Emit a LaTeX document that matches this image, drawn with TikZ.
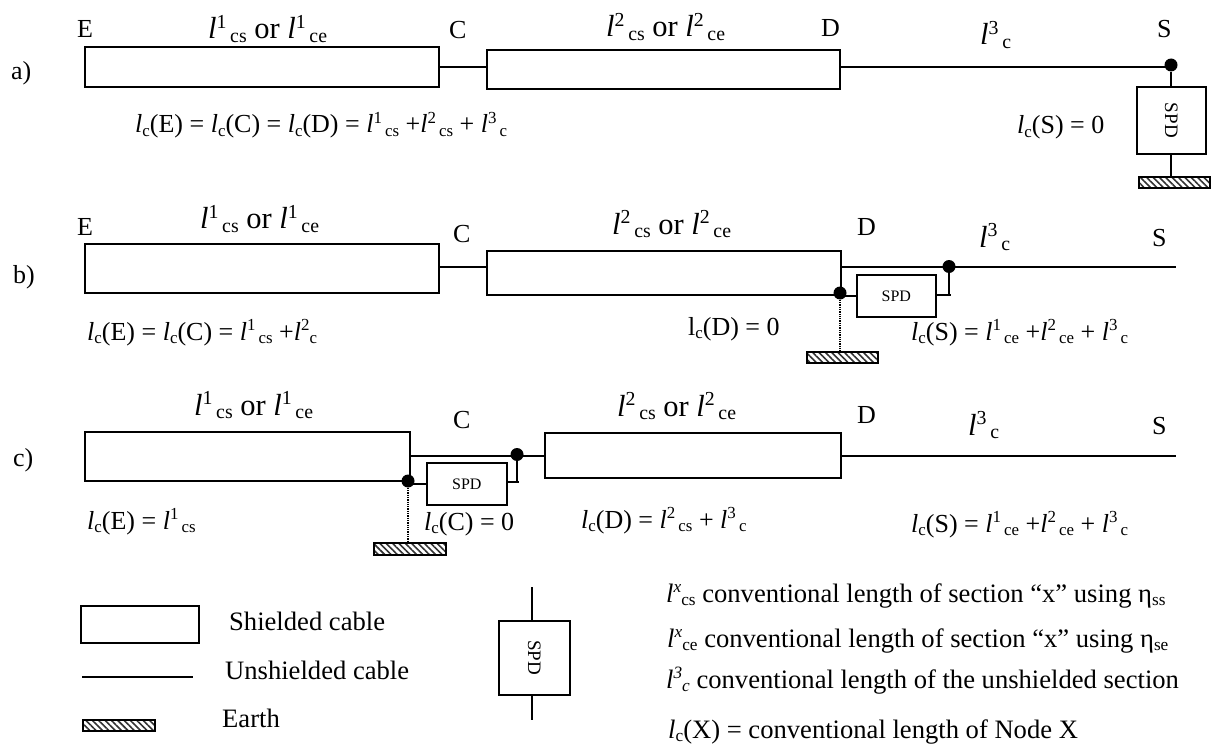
\documentclass[tikz,border=0pt]{standalone}
\usepackage{fontspec}
\setmainfont{Liberation Serif}
\usetikzlibrary{patterns.meta}
\newcommand\supx[1]{\raisebox{.36em}{\scalebox{.65}{#1}}}
\newcommand\subx[1]{\raisebox{-.12em}{\scalebox{.65}{#1}}}
\newcommand\lsec[2]{\textit{l}\supx{#1}\kern.12em\subx{#2}}
\newcommand\lcx[1]{\textit{l}\subx{c}(#1)}
\tikzset{
 x=1pt,y=-1pt,
 cable/.style={draw,line width=1.6pt,fill=white},
 wire/.style={line width=1.5pt},
 txt/.style={anchor=base west,inner sep=0pt,font=\fontsize{26}{30}\selectfont},
 lgd/.style={anchor=base west,inner sep=0pt,font=\fontsize{26.6}{30}\selectfont},
 big/.style={anchor=base west,inner sep=0pt,font=\fontsize{30.5}{34}\selectfont},
 dotn/.style={circle,fill=black,inner sep=0pt,minimum size=13pt},
 spdv/.style={draw,line width=1.6pt,fill=white,font=\fontsize{19}{22}\selectfont},
 spdh/.style={draw,line width=1.6pt,fill=white,font=\fontsize{16}{19}\selectfont},
 earth/.style={draw,line width=1.6pt,pattern={Lines[angle=-45,distance=4.5pt,line width=1.6pt]},pattern color=black!80},
}
\newcommand\bx[6]{\node[#1,anchor=north west,inner sep=0pt,minimum width=#4pt-#2pt,minimum height=#5pt-#3pt] (#6) at (#2,#3) {};}
\begin{document}
\begin{tikzpicture}
\useasboundingbox (0,0) rectangle (1216,749);
% ---- a
\bx{cable}{84}{46}{438}{86}{a1}
\bx{cable}{486}{49}{839}{88}{a2}
\draw[wire] (a1.east) -- (a1.east -| a2.west);
\node[dotn] (adot) at (1171,65) {};
\draw[wire] (a2.east |- a1.east) -- (a1.east -| adot);
\node[spdv,anchor=north west,inner sep=0pt,minimum width=69pt,minimum height=67pt] (aspd) at (1136,86) {\rotatebox{-90}{SPD}};
\bx{earth}{1138}{176}{1209}{187}{aearth}
\draw[wire] (adot) -- (adot |- aspd.north);
\draw[wire] (adot |- aspd.south) -- (adot |- aearth.north);
\node[txt] (tE1) at (77,38) {E};
\node[big] (ta1) at (208,39) {\lsec{1}{cs} or \lsec{1}{ce}};
\node[txt] (tC1) at (449,39) {C};
\node[big] (ta2) at (606,37) {\lsec{2}{cs} or \lsec{2}{ce}};
\node[txt] (tD1) at (821,37) {D};
\node[big] (ta3) at (980,45) {\lsec{3}{c}};
\node[txt] (tS1) at (1157,38) {S};
\node[txt] (la) at (11,80) {a)};
\node[txt] (fa1) at (135,133) {\lcx{E} = \lcx{C} = \lcx{D} = \lsec{1}{cs} +\lsec{2}{cs} + \lsec{3}{c}};
\node[txt] (fa2) at (1017,134) {\lcx{S} = 0};
% ---- b
\bx{cable}{84}{243}{438}{292}{b1}
\bx{cable}{486}{250}{840}{294}{b2}
\coordinate (bjoin) at (486,267);
\draw[wire] (b1.east |- bjoin) -- (bjoin);
\node[dotn] (bdr) at (949,266.5) {};
\node[dotn] (bdl) at (840,293) {};
\coordinate (bend) at (1176,267);
\coordinate (bstart) at (840,267);
\draw[wire] (bstart) -- (bend);
\node[spdh,anchor=north west,inner sep=0pt,minimum width=79pt,minimum height=42pt] (bspd) at (856,274) {SPD};
\draw[wire] (bdl |- bspd.west) -- (bspd.west);
\coordinate (bc) at (951,295);
\draw[wire] (bspd.east |- bc) -- (bc);
\draw[wire] (bdr) -- (bdr |- bc);
\bx{earth}{806}{351}{877}{362}{bearth}
\draw[line width=1.3pt,densely dotted] (bdl) -- (bdl |- bearth.north);
\node[txt] (tE2) at (77,235) {E};
\node[big] (tb1) at (200,229) {\lsec{1}{cs} or \lsec{1}{ce}};
\node[txt] (tC2) at (453,242) {C};
\node[big] (tb2) at (612,234) {\lsec{2}{cs} or \lsec{2}{ce}};
\node[txt] (tD2) at (857,235) {D};
\node[big] (tb3) at (979,247) {\lsec{3}{c}};
\node[txt] (tS2) at (1152,246) {S};
\node[txt] (lb) at (13,283) {b)};
\node[txt] (fb1) at (87,340) {\lcx{E} = \lcx{C} = \lsec{1}{cs} +\textit{l}\supx{2}\subx{c}};
\node[txt] (fb2) at (688,335) {l\subx{c}(D) = 0};
\node[txt] (fb3) at (911,340) {\lcx{S} = \lsec{1}{ce} +\lsec{2}{ce} + \lsec{3}{c}};
% ---- c
\bx{cable}{84}{431}{409}{480}{c1}
\bx{cable}{544}{432}{840}{477}{c2}
\coordinate (cjoin) at (544,456);
\draw[wire] (c1.east |- cjoin) -- (cjoin);
\node[dotn] (cdr) at (517,454.5) {};
\node[dotn] (cdl) at (408,481) {};
\coordinate (cend) at (1176,456);
\draw[wire] (c2.east |- cend) -- (cend);
\node[spdh,anchor=north west,inner sep=0pt,minimum width=80pt,minimum height=42pt] (cspd) at (426,462) {SPD};
\draw[wire] (cdl |- cspd.west) -- (cspd.west);
\coordinate (cc) at (519,482);
\draw[wire] (cspd.east |- cc) -- (cc);
\draw[wire] (cdr) -- (cdr |- cc);
\bx{earth}{373}{542}{445}{554}{cearth}
\draw[line width=1.3pt,densely dotted] (cdl) -- (cdl |- cearth.north);
\node[big] (tc1) at (194,415) {\lsec{1}{cs} or \lsec{1}{ce}};
\node[txt] (tC3) at (453,428) {C};
\node[big] (tc2) at (617,416) {\lsec{2}{cs} or \lsec{2}{ce}};
\node[txt] (tD3) at (857,423) {D};
\node[big] (tc3) at (968,435) {\lsec{3}{c}};
\node[txt] (tS3) at (1152,434) {S};
\node[txt] (lc) at (13,466) {c)};
\node[txt] (fc1) at (87,529) {\lcx{E} = \lsec{1}{cs}};
\node[txt] (fc2) at (424,530) {\lcx{C} = 0};
\node[txt] (fc3) at (581,528) {\lcx{D} = \lsec{2}{cs} + \lsec{3}{c}};
\node[txt] (fc4) at (911,532) {\lcx{S} = \lsec{1}{ce} +\lsec{2}{ce} + \lsec{3}{c}};
% ---- legend
\bx{cable}{80}{605}{198}{642}{k1}
\coordinate (k2a) at (82,677);
\coordinate (k2b) at (193,677);
\draw[wire] (k2a) -- (k2b);
\bx{earth}{82}{719}{154}{730}{k3}
\node[lgd] (k1t) at (229,630) {Shielded cable};
\node[lgd] (k2t) at (225,679) {Unshielded cable};
\node[lgd] (k3t) at (222,727) {Earth};
\node[spdv,anchor=north west,inner sep=0pt,minimum width=71pt,minimum height=74pt] (kspd) at (498,620) {\rotatebox{-90}{SPD}};
\coordinate (kt) at (532,587);
\coordinate (kb) at (532,720);
\draw[wire] (kt) -- (kt |- kspd.north);
\draw[wire] (kb |- kspd.south) -- (kb);
\node[lgd] (n1) at (666,602) {\textit{l}\supx{\textit{x}}\subx{cs} conventional length of section “x” using η\subx{ss}};
\node[lgd] (n2) at (667,647) {\textit{l}\supx{\textit{x}}\subx{ce} conventional length of section “x” using η\subx{se}};
\node[lgd] (n3) at (666,688) {\textit{l}\supx{\textit{3}}\subx{\textit{c}} conventional length of the unshielded section};
\node[lgd] (n4) at (668,738) {\lcx{X} = conventional length of Node X};
\end{tikzpicture}
\end{document}
